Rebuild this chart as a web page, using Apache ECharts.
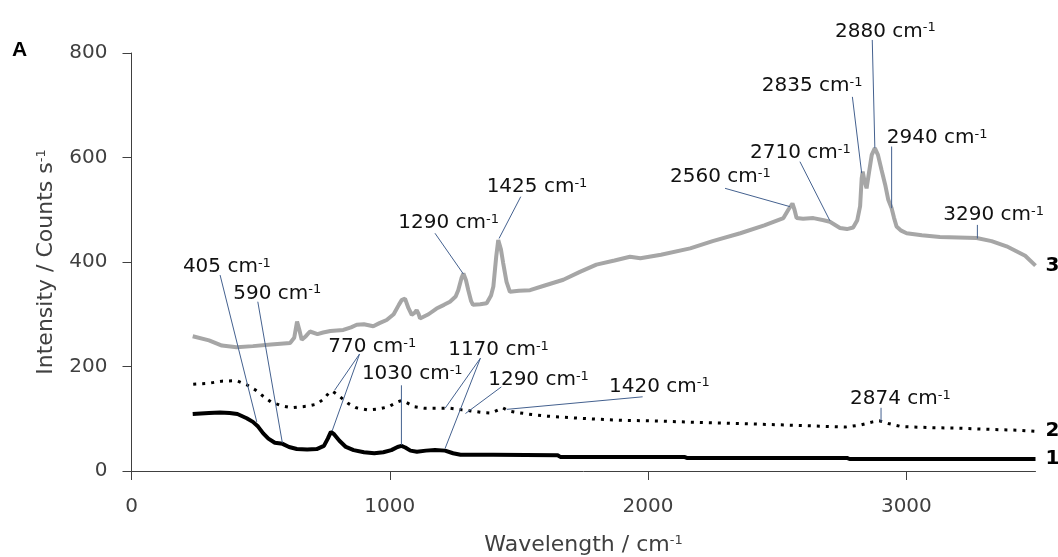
<!DOCTYPE html>
<html>
<head>
<meta charset="utf-8">
<script src="https://cdn.jsdelivr.net/npm/echarts@6/dist/echarts.min.js"></script>
<style>
html,body{margin:0;padding:0;background:#fff;}
#chart{width:1058px;height:557px;}
</style>
</head>
<body>
<div id="chart"></div>
<script>
// ---- data ----
const xTicks = [0, 1000, 2000, 3000];
const yTicks = [0, 200, 400, 600, 800];

// series 1 (solid black)
const s1X = [237,300,343,380,410,446,470,490,510,530,555,585,610,640,680,717,745,760,772,785,805,830,860,900,940,975,1006,1030,1045,1060,1080,1105,1140,1175,1214,1245,1274,1400,1650,1660,2140,2150,2770,2780,3500];
const s1Y = [109,111,112,111,109,101,94,85,72,62,54,52,46,42,41,42,48,62,75,70,58,46,40,36,34,36,40,46,48,45,39,37,39,40,39,34,31,31,30,27,27,25,25,23,23];

// series 2 (dotted black)
const s2X = [239,300,350,407,446,480,510,540,580,620,680,717,745,765,777,795,815,840,870,916,960,996,1025,1045,1065,1095,1135,1175,1234,1280,1314,1360,1393,1420,1437,1460,1492,1550,1611,1700,1810,1900,2009,2200,2405,2600,2763,2822,2870,2895,2930,2981,3100,3200,3300,3438,3500];
const s2Y = [166,168,172,173,165,155,143,132,125,121,124,128,138,150,153,147,139,129,121,117,119,123,131,135,131,123,120,120,120,117,115,112,111,117,121,115,112,108,105,102,99,97,96,93,90,87,84,88,94,96,91,85,83,82,80,78,76];

// series 3 (grey)
const s3X = [237,300,350,407,470,540,614,630,641,650,659,675,691,720,742,770,820,850,872,900,936,960,988,1015,1035,1046,1059,1072,1085,1097,1104,1112,1117,1150,1181,1210,1233,1255,1265,1278,1285,1295,1304,1315,1322,1350,1375,1392,1401,1412,1420,1430,1439,1452,1465,1500,1543,1600,1672,1736,1800,1870,1930,1970,2050,2163,2250,2357,2450,2524,2543,2559,2567,2575,2600,2640,2680,2704,2743,2770,2794,2810,2821,2827,2831,2838,2846,2855,2866,2878,2890,2904,2918,2930,2943,2952,2962,2980,3001,3060,3130,3200,3272,3330,3388,3460,3500];
const s3Y = [258,250,240,237,239,242,245,255,286,270,251,258,267,262,265,268,270,275,280,281,277,283,289,300,318,327,330,312,299,303,308,300,292,300,311,318,324,334,346,370,378,365,346,325,318,319,321,336,353,410,442,425,398,362,343,345,346,355,366,381,395,403,410,407,414,426,440,455,470,484,500,512,500,484,483,484,480,477,465,463,466,480,507,560,573,555,541,570,605,618,605,576,548,519,503,485,468,460,455,451,448,447,446,440,430,412,393];

const seriesNames = ['1', '2', '3'];

// peak annotations: label text, label anchor (left, middle) in data units
const annoText = ['405','590','770','1030','1170','1290','1420','2874','1290','1425','2560','2710','2835','2880','2940','3290'];
const annoX = [199,394,762,892,1226,1381,1849,2782,1033,1375,2085,2395,2440,2724,2924,3143];
const annoY = [391,340,238,186,232,174,162,138,475,543,563,609,737,841,638,490];

// leader lines (from label to curve) in data units
const leadX1 = [343,489,883,883,1045,1351,1351,1432,1979,2902,1175,1507,2298,2588,2791,2868,2943,3275];
const leadY1 = [375,324,224,224,164,216,216,161,142,121,455,525,541,592,716,825,621,471];
const leadX2 = [485,584,787,777,1045,1214,1214,1293,1453,2902,1285,1423,2549,2704,2827,2878,2943,3275];
const leadY2 = [94,54,155,77,50,120,43,110,118,94,377,445,506,479,570,618,503,445];

// ---- chart ----
const FONT = 'DejaVu Sans';
const zip = (xs, ys) => xs.map((x, i) => [x, ys[i]]);
const chart = echarts.init(document.getElementById('chart'), null, {renderer: 'canvas'});

const endLabel = (name) => ({
  show: true, formatter: name, fontWeight: 'bold', fontSize: 20,
  fontFamily: FONT, color: '#000', distance: 10
});

const supRich = {
  t: {fontSize: 22, fontFamily: FONT, color: '#404040'},
  s: {fontSize: 13, fontFamily: FONT, color: '#404040', verticalAlign: 'top'}
};

const option = {
  animation: false,
  backgroundColor: '#fff',
  grid: {left: 131.5, right: 22.5, top: 53, bottom: 86, containLabel: false, outerBoundsMode: 'none'},
  graphic: [{
    type: 'text', left: 12, top: 40,
    style: {text: 'A', font: 'bold 21px "Liberation Sans"', fill: '#000'}
  }],
  xAxis: {
    type: 'value', min: 0, max: 3500, interval: 1000,
    splitLine: {show: false},
    axisLine: {show: true, lineStyle: {color: '#404040', width: 1}},
    axisTick: {show: true, inside: false, length: 9, customValues: xTicks, lineStyle: {color: '#404040'}},
    axisLabel: {customValues: xTicks, formatter: (v) => String(v), margin: 26, fontSize: 20, fontFamily: FONT, color: '#404040'},
    name: '{t|Wavelength / cm}{s|-1}',
    nameLocation: 'middle', nameGap: 63,
    nameTextStyle: {rich: supRich}
  },
  yAxis: {
    type: 'value', min: 0, max: 800, interval: 200,
    splitLine: {show: false},
    axisLine: {show: true, lineStyle: {color: '#404040', width: 1}},
    axisTick: {show: true, inside: false, length: 9, customValues: yTicks, lineStyle: {color: '#404040'}},
    axisLabel: {customValues: yTicks, formatter: (v) => String(v), margin: 24, fontSize: 20, fontFamily: FONT, color: '#404040'},
    name: '{t|Intensity / Counts s}{s|-1}',
    nameLocation: 'middle', nameGap: 74, nameRotate: 90,
    nameTextStyle: {rich: supRich}
  },
  series: [
    {
      name: seriesNames[0], type: 'line', data: zip(s1X, s1Y), showSymbol: false,
      lineStyle: {color: '#000', width: 4}, z: 3, endLabel: endLabel(seriesNames[0])
    },
    {
      name: seriesNames[1], type: 'line', data: zip(s2X, s2Y), showSymbol: false,
      lineStyle: {color: '#000', width: 3, type: [3, 6]}, z: 3, endLabel: endLabel(seriesNames[1])
    },
    {
      name: seriesNames[2], type: 'line', data: zip(s3X, s3Y), showSymbol: false,
      lineStyle: {color: '#a6a6a6', width: 4}, z: 2, endLabel: endLabel(seriesNames[2])
    },
    {
      type: 'custom', z: 5, silent: true, clip: false,
      encode: {x: [0, 2], y: [1, 3]},
      data: leadX1.map((x, i) => [x, leadY1[i], leadX2[i], leadY2[i]]),
      renderItem: (params, api) => {
        const p1 = api.coord([api.value(0), api.value(1)]);
        const p2 = api.coord([api.value(2), api.value(3)]);
        return {type: 'line', shape: {x1: p1[0], y1: p1[1], x2: p2[0], y2: p2[1]},
                style: {stroke: '#44618f', lineWidth: 1}};
      }
    },
    {
      type: 'custom', z: 6, silent: true, clip: false,
      encode: {x: 0, y: 1},
      data: annoX.map((x, i) => [x, annoY[i], i]),
      renderItem: (params, api) => {
        const p = api.coord([api.value(0), api.value(1)]);
        const txt = annoText[api.value(2)];
        return {
          type: 'text', x: p[0], y: p[1],
          style: {
            text: '{n|' + txt + ' cm}{s|-1}',
            align: 'left', verticalAlign: 'middle',
            rich: {
              n: {fontSize: 20, fontFamily: FONT, fill: '#111', color: '#111'},
              s: {fontSize: 13, fontFamily: FONT, fill: '#111', color: '#111', verticalAlign: 'top'}
            }
          }
        };
      }
    }
  ]
};
chart.setOption(option);
</script>
</body>
</html>
